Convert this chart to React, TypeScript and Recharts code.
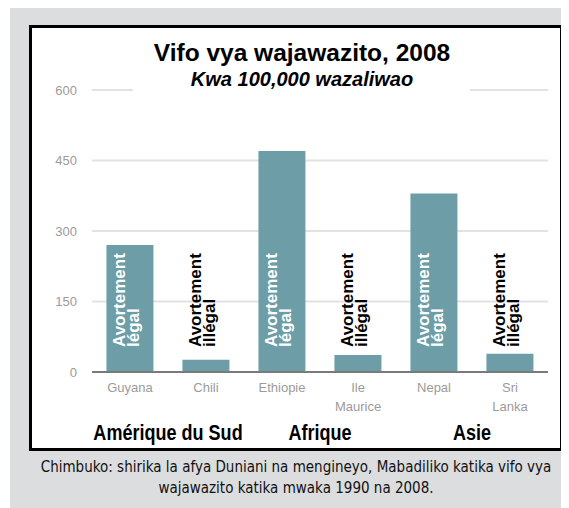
import { BarChart, Bar, XAxis, YAxis, CartesianGrid, LabelList } from 'recharts';

const countries = ['Guyana', 'Chili', 'Ethiopie', 'Ile Maurice', 'Nepal', 'Sri Lanka'];
const tickLines = [['Guyana'], ['Chili'], ['Ethiopie'], ['Ile', 'Maurice'], ['Nepal'], ['Sri', 'Lanka']];
const deaths = [270, 26, 470, 36, 380, 39];
const legal = [true, false, true, false, true, false];
const regions = ['Amérique du Sud', 'Afrique', 'Asie'];
const yTicks = [0, 150, 300, 450, 600];

const data = countries.map((country, i) => ({ country, deaths: deaths[i], legal: legal[i] }));

const CHART_W = 528;
const CHART_H = 420;
const MARGIN = { top: 62, right: 12, left: 0, bottom: 0 };
const Y_AXIS_W = 60;
const BAND = (CHART_W - MARGIN.right - Y_AXIS_W) / countries.length;

const condensed = "'DejaVu Sans Condensed', sans-serif";
const sans = "'Liberation Sans', Arial, sans-serif";

// narrow bold label: Liberation Sans squeezed horizontally
const Narrow = ({ x, y, size, children }: any) => (
  <g transform={`translate(${x},${y}) scale(0.82,1)`}>
    <text x={0} y={0} textAnchor="middle" fill="#000" fontSize={size} fontWeight="bold" fontFamily={sans}>
      {children}
    </text>
  </g>
);

const CountryTick = (props: any) => {
  const { x, y, payload } = props;
  const i = countries.indexOf(payload.value);
  const lines = tickLines[i] || [payload.value];
  return (
    <g>
      <text x={x} y={y + 20} textAnchor="middle" fill="#9b9b9b" fontSize={13} fontFamily={sans}>
        {lines.map((l, k) => (
          <tspan key={k} x={x} dy={k ? 19 : 0}>{l}</tspan>
        ))}
      </text>
      {i % 2 === 1 && (
        <Narrow x={x - BAND / 2} y={y + 68} size={22}>
          {regions[(i - 1) / 2]}
        </Narrow>
      )}
    </g>
  );
};

const BarNote = (props: any) => {
  const { x, y, width, height, index } = props;
  const cx = Number(x) + Number(width) / 2;
  const bottom = Number(y) + Number(height) - 25;
  const isLegal = legal[index];
  return (
    <g transform={`translate(${cx},${bottom}) rotate(-90)`}>
      <text fontSize={17} fontWeight="bold" fontFamily={sans} fill={isLegal ? '#fff' : '#000'}>
        <tspan x={0} y={-5}>Avortement</tspan>
        <tspan x={0} y={9}>{isLegal ? 'légal' : 'illégal'}</tspan>
      </text>
    </g>
  );
};

export default function App() {
  return (
    <div style={{ position: 'relative', width: 559, height: 500, marginLeft: 2, background: '#dcdddf' }}>
      <div
        style={{
          position: 'absolute', left: 19, top: 17, width: 534, height: 426,
          boxSizing: 'border-box', border: '3px solid #000', background: '#fff',
        }}
      >
        <BarChart width={CHART_W} height={CHART_H} data={data} margin={MARGIN} barCategoryGap="19%">
          <CartesianGrid vertical={false} stroke="#e2e2e2" strokeWidth={2} />
          <YAxis
            domain={[0, 600]}
            ticks={yTicks}
            width={Y_AXIS_W}
            axisLine={false}
            tickLine={false}
            tickSize={6}
            tickMargin={9}
            tick={{ fill: '#9b9b9b', fontSize: 13, fontFamily: sans }}
          />
          <XAxis
            dataKey="country"
            interval={0}
            height={CHART_H - 344}
            axisLine={{ stroke: '#7a7a7a', strokeWidth: 2 }}
            tickLine={false}
            tickSize={0}
            tickMargin={0}
            tick={<CountryTick />}
          />
          <Bar dataKey="deaths" fill="#6d9da7" isAnimationActive={false}>
            <LabelList dataKey="deaths" content={<BarNote />} />
          </Bar>
        </BarChart>
        <svg width={528} height={420} style={{ position: 'absolute', left: 0, top: 0, pointerEvents: 'none' }}>
          <rect x={101} y={44} width={337} height={24} fill="#fff" />
          <text x={270} y={33} textAnchor="middle" fontSize={24.5} fontWeight="bold" fontFamily={sans} fill="#000">
            Vifo vya wajawazito, 2008
          </text>
          <text x={270} y={58} textAnchor="middle" fontSize={20} fontWeight="bold" fontStyle="italic" fontFamily={sans} fill="#000">
            Kwa 100,000 wazaliwao
          </text>
        </svg>
      </div>
      <svg width={559} height={500} style={{ position: 'absolute', left: 0, top: 0, pointerEvents: 'none' }}>
        <text x={286} y={464} textAnchor="middle" fontSize={15} fontFamily={condensed} fill="#111">
          Chimbuko: shirika la afya Duniani na mengineyo, Mabadiliko katika vifo vya
        </text>
        <text x={286} y={485} textAnchor="middle" fontSize={15} fontFamily={condensed} fill="#111">
          wajawazito katika mwaka 1990 na 2008.
        </text>
      </svg>
    </div>
  );
}
